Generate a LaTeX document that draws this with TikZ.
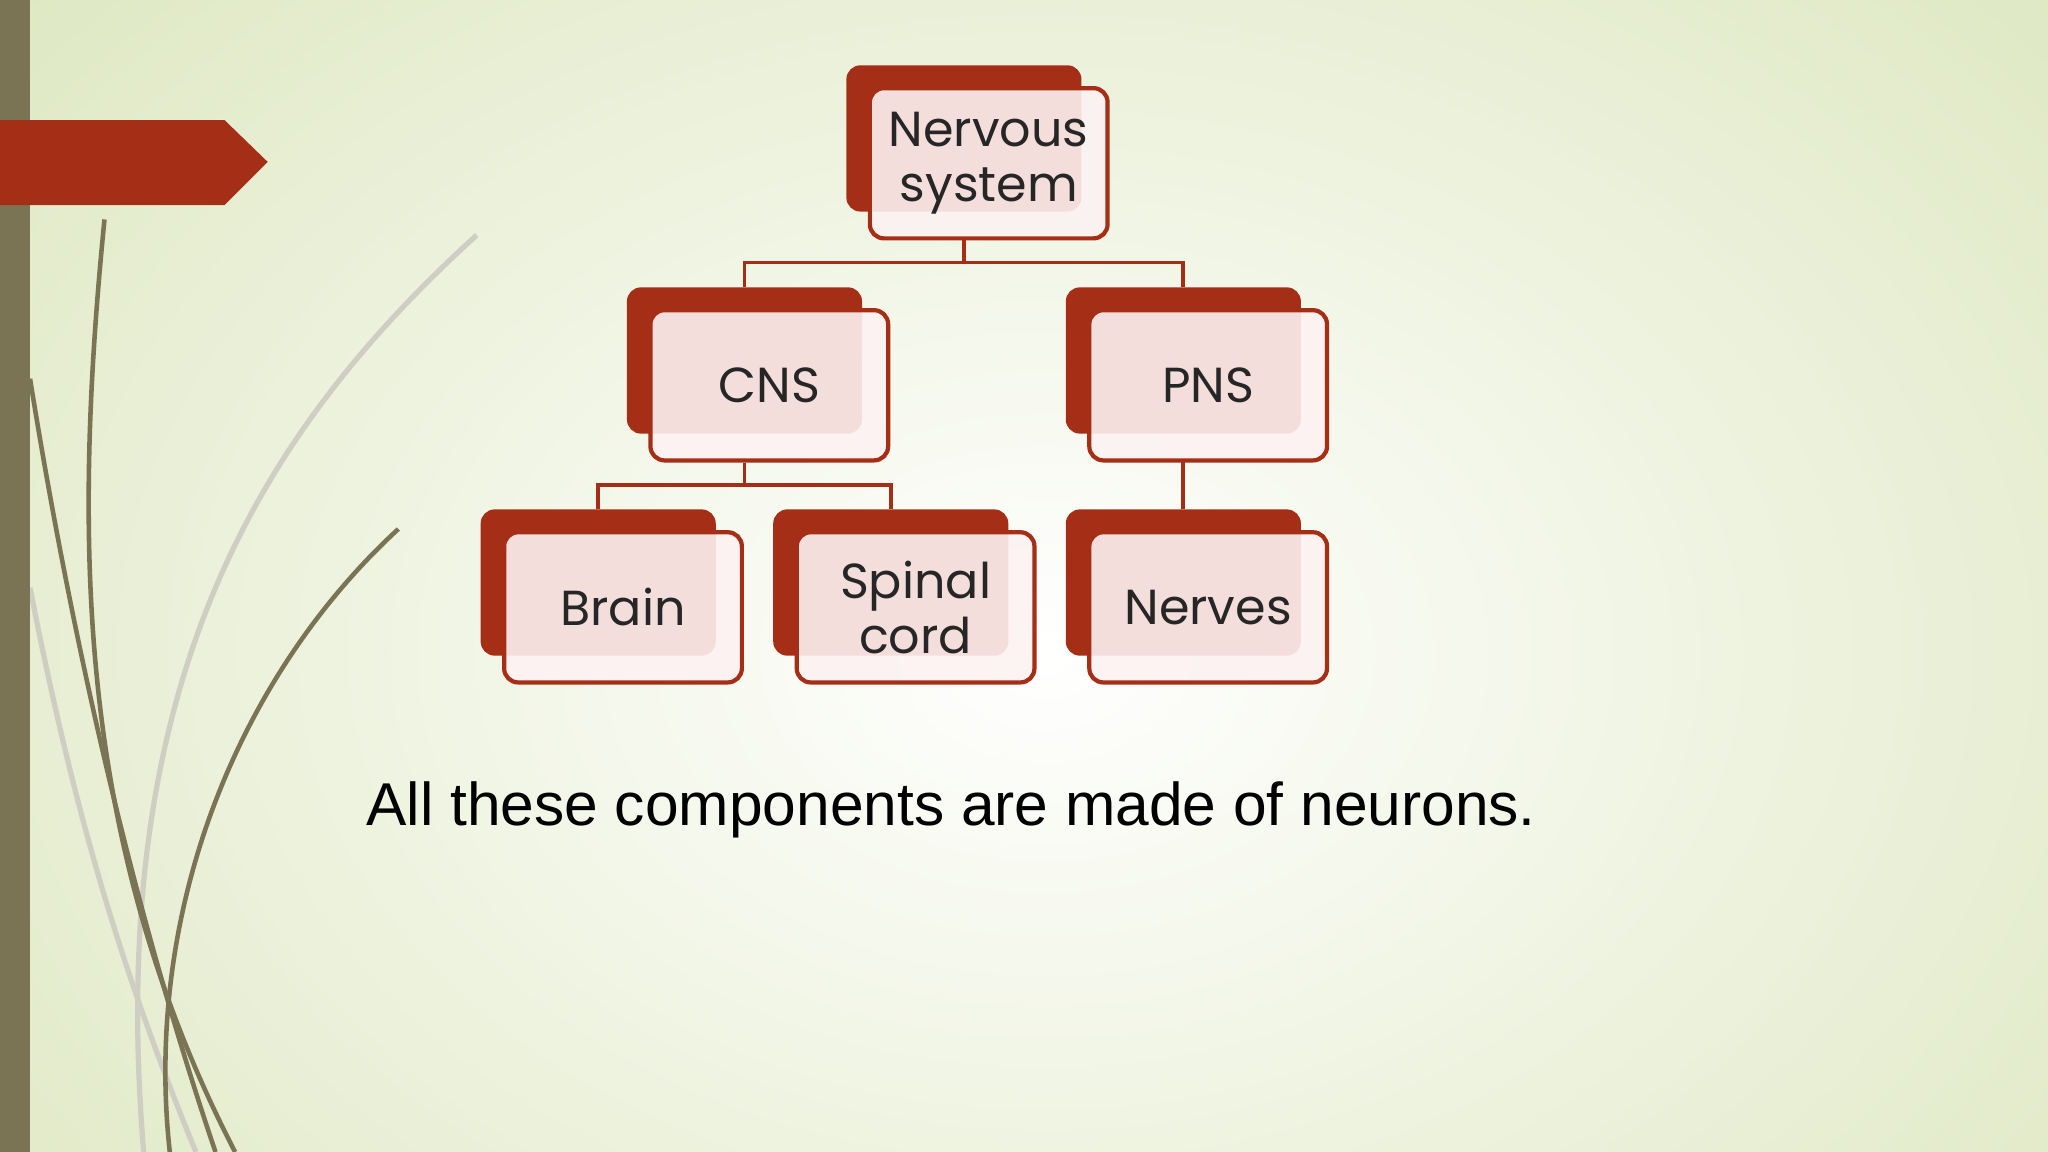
\documentclass[tikz,border=0pt]{standalone}
\usepackage{fontspec}
\setmainfont{Liberation Sans}
\newfontfamily\boxfont{Poppins}
\definecolor{rust}{HTML}{A52F16}
\definecolor{olive}{HTML}{7A7455}
\definecolor{bgedge}{HTML}{DDE7C0}
\definecolor{frontfill}{HTML}{FCF2F2}
\begin{document}
\begin{tikzpicture}[x=0.013061cm,y=-0.013061cm,
  back/.style={fill=rust,rounded corners=4pt},
  front/.style={draw=rust,line width=1.2pt,fill=frontfill,fill opacity=0.9,text opacity=1,
    rounded corners=4pt,minimum width=182*0.013061cm,minimum height=115*0.013061cm,
    inner sep=0pt,font=\boxfont\fontsize{14}{15.5}\selectfont,align=center,text=black!85},
  link/.style={draw=rust,line width=1.1pt},
  curve/.style={draw=olive,line width=1.3pt},
  lightcurve/.style={draw=olive!35,line width=1.5pt}]
\useasboundingbox (0,0) rectangle (1568,882);
\shade[inner color=white,outer color=bgedge] (-300,-300) rectangle (1900,1300);
\clip (0,0) rectangle (1568,882);
% decorative curves
\draw[lightcurve] (365,180) .. controls (200,330) and (80,520) .. (110,882);
\draw[curve] (80,168) .. controls (55,420) and (60,650) .. (180,882);
\draw[curve] (23,290) .. controls (60,520) and (110,720) .. (165,882);
\draw[lightcurve] (23,450) .. controls (60,640) and (100,760) .. (150,882);
\draw[curve] (305,405) .. controls (180,520) and (110,700) .. (130,882);
\fill[olive] (0,0) rectangle (23,882);
\fill[rust] (0,92) -- (172,92) -- (205,124) -- (172,157) -- (0,157) -- cycle;
% boxes
\foreach \n/\x/\y/\t in {ns/648/50/{Nervous\\system}, cns/480/220/CNS, pns/816/220/PNS,
  brain/368/390/Brain, spinal/592/390/{Spinal\\cord}, nerves/816/390/Nerves}{
  \fill[back] (\x,\y) rectangle ++(180,112);
  \node[front] (\n) at (\x+109,\y+75) {\t};
}
% connectors
\coordinate (j1) at (738,201);
\coordinate (j2) at (570,371);
\draw[link] (ns.south -| j1) -- (j1);
\draw[link] (570,220) |- (j1) -| (906,220);
\draw[link] (cns.south -| j2) -- (j2);
\draw[link] (458,390) |- (j2) -| (682,390);
\draw[link] (906,353) -- (906,390);
\node[anchor=base west,font=\fontsize{17.2}{20}\selectfont,inner sep=0pt] (txt) at (280,632)
  {All these components are made of neurons.};
\end{tikzpicture}
\end{document}
